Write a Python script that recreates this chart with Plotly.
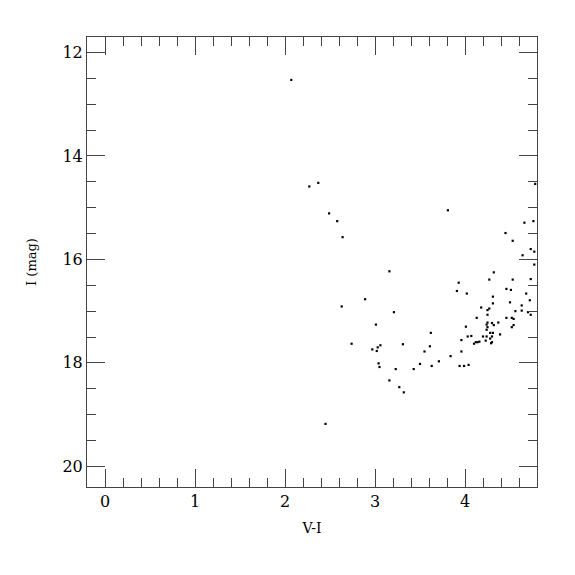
import plotly.graph_objects as go

# V-I colour and I magnitude of the stars
v_minus_i = [
    2.07, 2.37, 2.27, 2.49, 2.58, 2.64, 3.16, 2.89, 2.63, 3.21, 3.01, 2.74, 3.06, 3.03, 2.97,
    3.02, 3.04, 3.05, 3.23, 3.16, 3.27, 2.45, 3.32, 3.81, 4.66, 4.76, 4.45, 4.53, 4.73, 4.77,
    4.64, 4.77, 4.32, 4.27, 4.53, 4.73, 3.93, 4.46, 4.51, 3.91, 4.02, 4.68, 4.31, 4.72, 4.50,
    4.31, 4.63, 4.18, 4.27, 4.25, 4.56, 4.70, 4.63, 4.73, 4.25, 4.13, 4.46, 4.52, 4.54, 4.25,
    4.30, 4.32, 4.37, 4.24, 4.54, 4.52, 4.25, 4.01, 4.24, 4.28, 4.31, 4.39, 3.62, 4.03, 4.07,
    4.20, 4.24, 4.30, 4.28, 3.96, 4.23, 4.16, 4.14, 4.12, 4.10, 4.29, 4.30, 3.31, 3.61, 3.55,
    3.96, 3.84, 3.71, 3.50, 3.63, 3.94, 3.99, 4.04, 3.43, 4.78,
]
i_mag = [
    12.53, 14.52, 14.59, 15.11, 15.26, 15.57, 16.23, 16.77, 16.91, 17.02, 17.26, 17.63, 17.66, 17.70, 17.74,
    17.77, 18.01, 18.08, 18.12, 18.34, 18.47, 19.18, 18.57, 15.05, 15.29, 15.26, 15.49, 15.64, 15.80, 15.85,
    15.92, 16.10, 16.25, 16.39, 16.39, 16.38, 16.45, 16.57, 16.59, 16.61, 16.66, 16.66, 16.72, 16.79, 16.83,
    16.85, 16.89, 16.93, 16.95, 16.98, 17.00, 17.02, 16.99, 17.07, 17.07, 17.13, 17.13, 17.13, 17.15, 17.22,
    17.23, 17.27, 17.22, 17.26, 17.27, 17.31, 17.31, 17.30, 17.36, 17.42, 17.42, 17.45, 17.42, 17.49, 17.48,
    17.49, 17.49, 17.49, 17.53, 17.56, 17.57, 17.59, 17.60, 17.60, 17.63, 17.62, 17.60, 17.64, 17.68, 17.78,
    17.78, 17.87, 17.97, 18.02, 18.06, 18.06, 18.06, 18.04, 18.12, 14.54,
]

x_ticks = [0, 1, 2, 3, 4]
y_ticks = [12, 14, 16, 18, 20]

FONT = "DejaVu Serif"
AXIS_COLOR = "#444444"

fig = go.Figure(
    go.Scatter(
        x=v_minus_i,
        y=i_mag,
        mode="markers",
        marker=dict(color="black", size=2.2, symbol="square", line=dict(width=0)),
        cliponaxis=True,
        showlegend=False,
    )
)

axis_common = dict(
    showgrid=False,
    zeroline=False,
    showline=True,
    linecolor=AXIS_COLOR,
    linewidth=1,
    mirror="allticks",
    ticks="inside",
    ticklen=18,
    tickwidth=1,
    tickcolor=AXIS_COLOR,
    tickfont=dict(family=FONT, size=16, color="black"),
)

fig.update_xaxes(
    range=[-0.2, 4.8],
    tickvals=x_ticks,
    ticktext=[str(v) for v in x_ticks],
    minor=dict(dtick=0.2, tick0=0, ticks="inside", ticklen=9, tickwidth=1, tickcolor=AXIS_COLOR, showgrid=False),
    title=dict(text="V-I", font=dict(family=FONT, size=14, color="black"), standoff=12),
    **axis_common,
)
fig.update_yaxes(
    range=[20.4, 11.7],
    tickvals=y_ticks,
    ticktext=[str(v) for v in y_ticks],
    minor=dict(dtick=0.5, tick0=0, ticks="inside", ticklen=9, tickwidth=1, tickcolor=AXIS_COLOR, showgrid=False),
    title=dict(text="I (mag)", font=dict(family=FONT, size=13, color="black"), standoff=22),
    **axis_common,
)

# page body has an 8px margin, so the figure is shrunk by 8px and margins reduced
fig.update_layout(
    width=567,
    height=567,
    margin=dict(l=79, r=38, t=29, b=88),
    paper_bgcolor="white",
    plot_bgcolor="white",
)

fig.write_html("out.html")
